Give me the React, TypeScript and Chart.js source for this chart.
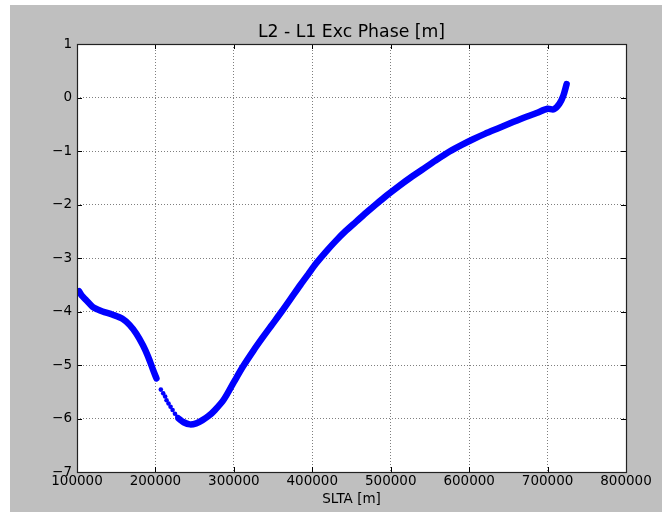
import React, { useEffect, useRef } from "react";
import { Chart, registerables } from "chart.js";

Chart.register(...registerables);

// ---- Data ----
const chartTitle = "L2 - L1 Exc Phase [m]";
const xAxisTitle = "SLTA [m]";

// First dense segment
const segAx = [102600, 106000, 111200, 119700, 126000, 132600, 145500, 158400, 167000, 175500, 184100, 190600, 197000, 201300];
const segAy = [-3.62, -3.70, -3.78, -3.91, -3.96, -4.0, -4.06, -4.14, -4.25, -4.41, -4.63, -4.84, -5.09, -5.25];

// Sparse dots after the gap
const gapX = [206900, 209900, 212400, 214200, 216700, 219300, 221900, 224900, 227900];
const gapY = [-5.46, -5.53, -5.59, -5.66, -5.72, -5.78, -5.84, -5.91, -5.97];

// Second dense segment
const segBx = [229500, 236000, 244000, 252000, 260000, 268000, 276000, 287000, 300000, 312000, 325000, 337000, 349000, 361000, 373000, 385000, 395000, 405000, 417000, 430000, 443000, 456000, 469000, 481000, 495000, 510000, 525000, 540000, 557000, 575000, 590000, 605000, 620000, 638000, 656000, 673000, 686000, 700000, 708000, 715000, 720000, 724300];
const segBy = [-6.0, -6.07, -6.11, -6.09, -6.03, -5.95, -5.84, -5.65, -5.32, -5.02, -4.73, -4.48, -4.24, -4.0, -3.75, -3.5, -3.3, -3.1, -2.89, -2.68, -2.49, -2.32, -2.15, -2.0, -1.83, -1.66, -1.5, -1.35, -1.18, -1.01, -0.89, -0.78, -0.68, -0.57, -0.46, -0.36, -0.29, -0.21, -0.22, -0.12, 0.03, 0.25];

const xMin = 100000;
const xMax = 800000;
const xStep = 100000;
const yMin = -7;
const yMax = 1;
const yStep = 1;

const zip = (xs: number[], ys: number[]) => xs.map((x, i) => ({ x, y: ys[i] }));

const FONT = "DejaVu Sans";
const BLUE = "#0000ff";

const framePlugin = {
  id: "mplFrame",
  beforeDraw(chart: any) {
    const { ctx, chartArea } = chart;
    ctx.save();
    ctx.fillStyle = "#bfbfbf";
    ctx.fillRect(0, 0, chart.width, chart.height);
    ctx.fillStyle = "#ffffff";
    ctx.fillRect(chartArea.left, chartArea.top, chartArea.right - chartArea.left, chartArea.bottom - chartArea.top);
    ctx.restore();
  },
  afterDraw(chart: any) {
    const { ctx, chartArea } = chart;
    const { left, right, top, bottom } = chartArea;
    ctx.save();
    ctx.strokeStyle = "#000000";
    ctx.lineWidth = 1;
    const tl = 5;
    const xs = chart.scales.x;
    const ys = chart.scales.y;
    ctx.beginPath();
    xs.ticks.forEach((t: any) => {
      const px = Math.round(xs.getPixelForValue(t.value)) + 0.5;
      ctx.moveTo(px, bottom);
      ctx.lineTo(px, bottom - tl);
      ctx.moveTo(px, top);
      ctx.lineTo(px, top + tl);
    });
    ys.ticks.forEach((t: any) => {
      const py = Math.round(ys.getPixelForValue(t.value)) + 0.5;
      ctx.moveTo(left, py);
      ctx.lineTo(left + tl, py);
      ctx.moveTo(right, py);
      ctx.lineTo(right - tl, py);
    });
    ctx.stroke();
    ctx.lineWidth = 1.2;
    ctx.strokeStyle = "#222222";
    ctx.strokeRect(Math.round(left) + 0.5, Math.round(top) + 0.5, Math.round(right - left), Math.round(bottom - top));
    // Title centred over the axes area
    ctx.fillStyle = "#000000";
    ctx.font = `17.3px "${FONT}"`;
    ctx.textAlign = "center";
    ctx.textBaseline = "middle";
    ctx.fillText(chartTitle, (left + right) / 2, top - 11);
    ctx.restore();
  },
};

export default function App() {
  const canvasRef = useRef<HTMLCanvasElement | null>(null);

  useEffect(() => {
    if (!canvasRef.current) return;
    const lineStyle = {
      showLine: true,
      borderColor: BLUE,
      backgroundColor: BLUE,
      borderWidth: 6.5,
      pointRadius: 0,
      borderCapStyle: "round" as const,
      borderJoinStyle: "round" as const,
      tension: 0.3,
    };
    const chart = new Chart(canvasRef.current, {
      type: "scatter",
      data: {
        datasets: [
          { ...lineStyle, data: zip(segAx, segAy) },
          {
            data: zip(gapX, gapY),
            showLine: false,
            pointRadius: 2.3,
            pointBorderWidth: 0,
            backgroundColor: BLUE,
            borderColor: BLUE,
          },
          { ...lineStyle, data: zip(segBx, segBy) },
        ],
      },
      options: {
        animation: false,
        responsive: false,
        maintainAspectRatio: false,
        devicePixelRatio: 1,
        layout: { padding: { left: 0, right: 36, top: 39, bottom: 0 } },
        plugins: {
          legend: { display: false },
          tooltip: { enabled: false },
          title: { display: false },
        },
        scales: {
          x: {
            type: "linear",
            min: xMin,
            max: xMax,
            afterFit: (scale: any) => {
              scale.height = 40;
            },
            ticks: {
              stepSize: xStep,
              color: "#000000",
              font: { family: FONT, size: 13.5 },
              padding: 1,
              maxRotation: 0,
              autoSkip: false,
              callback: (v: any) => String(v),
            },
            grid: {
              color: "rgba(0,0,0,0.5)",
              lineWidth: 1,
              drawTicks: false,
            },
            border: { display: false, dash: [1, 2] },
            title: {
              display: true,
              text: xAxisTitle,
              color: "#000000",
              font: { family: FONT, size: 13.5, lineHeight: 1.2 },
              padding: { top: 0, bottom: 4 },
            },
          },
          y: {
            type: "linear",
            min: yMin,
            max: yMax,
            afterFit: (scale: any) => {
              scale.width = 67;
            },
            ticks: {
              stepSize: yStep,
              color: "#000000",
              font: { family: FONT, size: 13.5 },
              padding: 5,
              autoSkip: false,
              callback: (v: any) => String(v).replace("-", "\u2212"),
            },
            grid: {
              color: "rgba(0,0,0,0.5)",
              lineWidth: 1,
              drawTicks: false,
            },
            border: { display: false, dash: [1, 2] },
          },
        },
      },
      plugins: [framePlugin],
    } as any);
    return () => chart.destroy();
  }, []);

  return (
    <div style={{ position: "absolute", left: 0, top: 0, width: 662, height: 512, background: "#ffffff", overflow: "hidden" }}>
      <canvas
        ref={canvasRef}
        width={652}
        height={507}
        style={{ position: "absolute", left: 10, top: 5, width: 652, height: 507 }}
      />
    </div>
  );
}
